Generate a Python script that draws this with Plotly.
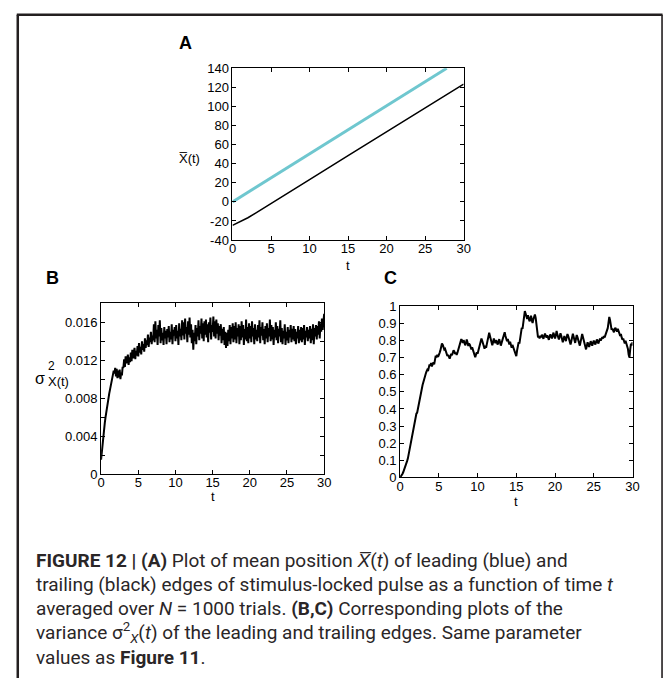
import plotly.graph_objects as go

W, H = 671, 681

# ---------------- data ----------------
# Panel A: mean positions
t_lead = [0, 5, 10, 15, 20, 25, 27.8]
x_lead = [0, 25.2, 50.4, 75.5, 100.7, 125.9, 140]
t_trail = [0, 1, 2, 3, 4, 5, 6, 8, 10, 15, 20, 25, 30]
x_trail = [-24.6, -21.0, -16.6, -11.8, -6.9, -1.9, 3.2, 13.3, 23.4, 48.5, 73.5, 98.5, 123.5]

# Panel B / C sampling step
DT = 0.1

# Panel B: variance (leading edge), one value every DT
var_b = [
    0.0015, 0.0024, 0.0032, 0.0040, 0.0047, 0.0054, 0.0060, 0.0066, 0.0071, 0.0076,
    0.0080, 0.0085, 0.0089, 0.0093, 0.0097, 0.0101, 0.0104, 0.0109, 0.0106, 0.0112,
    0.0103, 0.0111, 0.0101, 0.0109, 0.0102, 0.0110, 0.0100, 0.0107, 0.0104, 0.0113,
    0.0112, 0.0121, 0.0113, 0.0124, 0.0117, 0.0119, 0.0126, 0.0115, 0.0123, 0.0118,
    0.0128, 0.0119, 0.0131, 0.0122, 0.0127, 0.0133, 0.0121, 0.0130, 0.0125, 0.0135,
    0.0124, 0.0138, 0.0128, 0.0134, 0.0126, 0.0140, 0.0131, 0.0137, 0.0129, 0.0143,
    0.0133, 0.0141, 0.0136, 0.0147, 0.0134, 0.0144, 0.0139, 0.0150, 0.0137, 0.0146,
    0.0141, 0.0158, 0.0139, 0.0161, 0.0143, 0.0152, 0.0136, 0.0157, 0.0145, 0.0162,
    0.0138, 0.0154, 0.0141, 0.0149, 0.0136, 0.0155, 0.0143, 0.0151, 0.0137, 0.0153,
    0.0144, 0.0156, 0.0139, 0.0150, 0.0142, 0.0158, 0.0137, 0.0152, 0.0146, 0.0155,
    0.0140, 0.0157, 0.0143, 0.0151, 0.0136, 0.0159, 0.0145, 0.0153, 0.0141, 0.0162,
    0.0146, 0.0160, 0.0142, 0.0164, 0.0148, 0.0155, 0.0139, 0.0161, 0.0147, 0.0165,
    0.0144, 0.0158, 0.0138, 0.0152, 0.0131, 0.0149, 0.0140, 0.0157, 0.0137, 0.0154,
    0.0145, 0.0162, 0.0141, 0.0156, 0.0148, 0.0164, 0.0143, 0.0159, 0.0140, 0.0161,
    0.0147, 0.0163, 0.0144, 0.0158, 0.0139, 0.0160, 0.0149, 0.0165, 0.0142, 0.0157,
    0.0150, 0.0166, 0.0145, 0.0161, 0.0143, 0.0163, 0.0148, 0.0159, 0.0141, 0.0156,
    0.0146, 0.0158, 0.0138, 0.0153, 0.0141, 0.0155, 0.0136, 0.0150, 0.0133, 0.0149,
    0.0135, 0.0152, 0.0140, 0.0157, 0.0137, 0.0155, 0.0143, 0.0159, 0.0139, 0.0156,
    0.0142, 0.0160, 0.0138, 0.0154, 0.0145, 0.0158, 0.0137, 0.0156, 0.0141, 0.0161,
    0.0144, 0.0157, 0.0136, 0.0153, 0.0142, 0.0163, 0.0140, 0.0155, 0.0138, 0.0159,
    0.0143, 0.0156, 0.0139, 0.0161, 0.0145, 0.0154, 0.0137, 0.0158, 0.0142, 0.0152,
    0.0140, 0.0157, 0.0144, 0.0162, 0.0138, 0.0155, 0.0146, 0.0160, 0.0141, 0.0153,
    0.0137, 0.0156, 0.0143, 0.0159, 0.0139, 0.0154, 0.0145, 0.0163, 0.0140, 0.0157,
    0.0142, 0.0155, 0.0136, 0.0152, 0.0144, 0.0160, 0.0141, 0.0156, 0.0138, 0.0153,
    0.0145, 0.0162, 0.0139, 0.0154, 0.0137, 0.0151, 0.0143, 0.0158, 0.0136, 0.0150,
    0.0141, 0.0155, 0.0138, 0.0152, 0.0144, 0.0157, 0.0139, 0.0153, 0.0142, 0.0156,
    0.0140, 0.0153, 0.0137, 0.0150, 0.0143, 0.0156, 0.0138, 0.0152, 0.0141, 0.0155,
    0.0139, 0.0154, 0.0142, 0.0157, 0.0136, 0.0151, 0.0144, 0.0155, 0.0140, 0.0152,
    0.0143, 0.0156, 0.0138, 0.0153, 0.0141, 0.0158, 0.0137, 0.0154, 0.0145, 0.0157,
    0.0142, 0.0156, 0.0147, 0.0161, 0.0143, 0.0159, 0.0150, 0.0164, 0.0152, 0.0166,
    0.0169,
]

# Panel C: variance (trailing edge), one value every DT
var_c = [
    0.000, 0.005, 0.012, 0.020, 0.030, 0.041, 0.053, 0.067, 0.081, 0.095,
    0.110, 0.133, 0.152, 0.178, 0.205, 0.228, 0.252, 0.280, 0.305, 0.330,
    0.355, 0.372, 0.378, 0.402, 0.432, 0.462, 0.474, 0.488, 0.515, 0.540,
    0.556, 0.568, 0.590, 0.604, 0.618, 0.628, 0.622, 0.645, 0.660, 0.652,
    0.668, 0.648, 0.662, 0.672, 0.660, 0.690, 0.712, 0.700, 0.716, 0.704,
    0.712, 0.728, 0.742, 0.768, 0.782, 0.776, 0.760, 0.748, 0.752, 0.738,
    0.722, 0.710, 0.716, 0.702, 0.694, 0.708, 0.722, 0.714, 0.728, 0.742,
    0.736, 0.722, 0.730, 0.716, 0.728, 0.745, 0.762, 0.778, 0.796, 0.808,
    0.800, 0.786, 0.802, 0.790, 0.772, 0.784, 0.806, 0.790, 0.768, 0.782,
    0.776, 0.762, 0.748, 0.760, 0.742, 0.726, 0.712, 0.702, 0.718, 0.730,
    0.722, 0.740, 0.758, 0.772, 0.790, 0.812, 0.798, 0.780, 0.766, 0.752,
    0.770, 0.758, 0.780, 0.798, 0.822, 0.845, 0.826, 0.808, 0.788, 0.772,
    0.790, 0.812, 0.798, 0.784, 0.802, 0.790, 0.776, 0.792, 0.808, 0.788,
    0.770, 0.786, 0.802, 0.818, 0.832, 0.848, 0.826, 0.812, 0.796, 0.808,
    0.790, 0.776, 0.792, 0.770, 0.758, 0.774, 0.762, 0.748, 0.736, 0.722,
    0.708, 0.742, 0.772, 0.790, 0.782, 0.810, 0.852, 0.874, 0.868, 0.902,
    0.938, 0.972, 0.958, 0.940, 0.926, 0.948, 0.930, 0.912, 0.924, 0.945,
    0.918, 0.902, 0.924, 0.948, 0.952, 0.932, 0.878, 0.832, 0.818, 0.826,
    0.812, 0.828, 0.818, 0.834, 0.822, 0.810, 0.826, 0.840, 0.828, 0.816,
    0.830, 0.818, 0.804, 0.822, 0.836, 0.824, 0.812, 0.830, 0.846, 0.826,
    0.812, 0.830, 0.856, 0.834, 0.820, 0.806, 0.824, 0.842, 0.828, 0.810,
    0.790, 0.808, 0.826, 0.812, 0.796, 0.818, 0.838, 0.826, 0.808, 0.792,
    0.776, 0.796, 0.820, 0.840, 0.822, 0.804, 0.786, 0.810, 0.832, 0.818,
    0.800, 0.784, 0.770, 0.792, 0.818, 0.838, 0.820, 0.798, 0.780, 0.762,
    0.748, 0.768, 0.790, 0.776, 0.762, 0.780, 0.796, 0.782, 0.770, 0.786,
    0.800, 0.788, 0.776, 0.792, 0.806, 0.794, 0.782, 0.798, 0.812, 0.800,
    0.808, 0.820, 0.812, 0.826, 0.818, 0.834, 0.848, 0.852, 0.872, 0.904,
    0.938, 0.918, 0.884, 0.862, 0.870, 0.856, 0.848, 0.866, 0.874, 0.860,
    0.852, 0.868, 0.858, 0.842, 0.826, 0.838, 0.818, 0.804, 0.812, 0.796,
    0.782, 0.798, 0.786, 0.770, 0.752, 0.718, 0.700, 0.748, 0.782, 0.770,
    0.790,
]

t_b = [round(i * DT, 2) for i in range(len(var_b))]
t_c = [round(i * DT, 2) for i in range(len(var_c))]

# tick labels
a_y_ticks = [-40, -20, 0, 20, 40, 60, 80, 100, 120, 140]
a_y_text = ["-40", "-20", "0", "20", "40", "60", "80", "100", "120", "140"]
t_ticks = [0, 5, 10, 15, 20, 25, 30]
t_text = ["0", "5", "10", "15", "20", "25", "30"]
b_y_ticks = [0, 0.004, 0.008, 0.012, 0.016]
b_y_text = ["0", "0.004", "0.008", "0.012", "0.016"]
b_y_minor = [0.002, 0.006, 0.010, 0.014]
c_y_ticks = [0, 0.1, 0.2, 0.3, 0.4, 0.5, 0.6, 0.7, 0.8, 0.9, 1.0]
c_y_text = ["0", "0.1", "0.2", "0.3", "0.4", "0.5", "0.6", "0.7", "0.8", "0.9", "1"]

caption_lines = [
    "<b>FIGURE 12 | (A)</b> Plot of mean position <i>X\u0305</i>(<i>t</i>) of leading (blue) and",
    "trailing (black) edges of stimulus-locked pulse as a function of time <i>t</i>",
    "averaged over <i>N</i> = 1000 trials. <b>(B,C)</b> Corresponding plots of the",
    "variance σ<sup>2</sup><sub><i>X</i></sub>(<i>t</i>) of the leading and trailing edges. Same parameter",
    "values as <b>Figure 11</b>.",
]

# ---------------- layout helpers ----------------
def px(x):
    return x / W

def py(y):
    return 1 - y / H

AX_FONT = dict(family="Liberation Sans, Arial, sans-serif", size=13, color="black")
BLUE = "#6fc7cf"

fig = go.Figure()
fig.add_trace(go.Scatter(x=t_trail, y=x_trail, mode="lines", line=dict(color="black", width=1.5),
                         xaxis="x", yaxis="y", showlegend=False))
fig.add_trace(go.Scatter(x=t_lead, y=x_lead, mode="lines", line=dict(color=BLUE, width=3),
                         xaxis="x", yaxis="y", showlegend=False))
fig.add_trace(go.Scatter(x=t_b, y=var_b, mode="lines", line=dict(color="black", width=2),
                         xaxis="x2", yaxis="y2", showlegend=False))
fig.add_trace(go.Scatter(x=t_c, y=var_c, mode="lines", line=dict(color="black", width=2),
                         xaxis="x3", yaxis="y3", showlegend=False))

def axis(domain, rng, tickvals, ticktext, anchor, standoff=0, minor_vals=None):
    d = dict(domain=domain, range=rng, tickmode="array", tickvals=tickvals, ticktext=ticktext,
             ticks="inside", ticklen=4, tickwidth=1, tickcolor="black",
             showline=True, linecolor="black", linewidth=1, mirror="ticks",
             showgrid=False, zeroline=False, tickfont=AX_FONT, anchor=anchor,
             ticklabelstandoff=standoff)
    if minor_vals is not None:
        d["minor"] = dict(tickmode="array", tickvals=minor_vals, ticks="inside", ticklen=4,
                          tickwidth=1, tickcolor="black", showgrid=False)
    return d

A_box = (232.3, 467.3, 62.7, 238.3)
B_box = (98.7, 325.5, 303.0, 477.5)
C_box = (402.7, 639.0, 306.0, 481.0)

def dom_x(b):
    return [px(b[0]), px(b[1])]

def dom_y(b):
    return [py(b[3]), py(b[2])]

fig.update_layout(
    width=W, height=H, margin=dict(l=0, r=0, t=0, b=0),
    paper_bgcolor="white", plot_bgcolor="white",
    xaxis=axis(dom_x(A_box), [0, 30], t_ticks, t_text, "y", standoff=-4),
    yaxis=axis(dom_y(A_box), [-40, 140], a_y_ticks, a_y_text, "x"),
    xaxis2=axis(dom_x(B_box), [0, 30], t_ticks, t_text, "y2", standoff=-4),
    yaxis2=axis(dom_y(B_box), [0, 0.018], b_y_ticks, b_y_text, "x2", minor_vals=b_y_minor),
    xaxis3=axis(dom_x(C_box), [0, 30], t_ticks, t_text, "y3", standoff=-3),
    yaxis3=axis(dom_y(C_box), [0, 1], c_y_ticks, c_y_text, "x3"),
)

ann = []
def text(x, y, s, size=13, family="Liberation Sans, Arial, sans-serif", xanchor="center",
         yanchor="middle", color="black"):
    ann.append(dict(x=px(x), y=py(y), xref="paper", yref="paper", text=s, showarrow=False,
                    xanchor=xanchor, yanchor=yanchor,
                    font=dict(family=family, size=size, color=color)))

# panel letters
text(184.5, 36.5, "<b>A</b>", size=18)
text(49, 277.5, "<b>B</b>", size=18)
text(393, 277.5, "<b>C</b>", size=18)

# axis titles
text(350, 264, "t", size=13)
text(212, 501, "t", size=13)
text(521, 506, "t", size=13)

# y titles
text(189, 155, "X\u0305(t)", size=13)
text(37, 380, "σ", size=16)
text(55, 383, "X(t)", size=13)
text(48, 367, "2", size=12)

# caption
cap_y = [566, 591, 615, 640, 665]
for s, y in zip(caption_lines, cap_y):
    text(31, y, s, size=19, family="Roboto, Liberation Sans, sans-serif", xanchor="left",
         color="#2a2627")

fig.update_layout(annotations=ann)

# outer frame
FRAME = "#231f20"
fig.update_layout(shapes=[
    dict(type="line", xref="paper", yref="paper", x0=px(14), x1=px(14), y0=py(8), y1=py(H + 5),
         line=dict(color=FRAME, width=2.5)),
    dict(type="line", xref="paper", yref="paper", x0=px(13), x1=px(669.5), y0=py(8), y1=py(8),
         line=dict(color=FRAME, width=2.5)),
    dict(type="line", xref="paper", yref="paper", x0=px(669), x1=px(669), y0=py(8), y1=py(H + 5),
         line=dict(color=FRAME, width=1.6)),
])

fig.write_html("out.html")
